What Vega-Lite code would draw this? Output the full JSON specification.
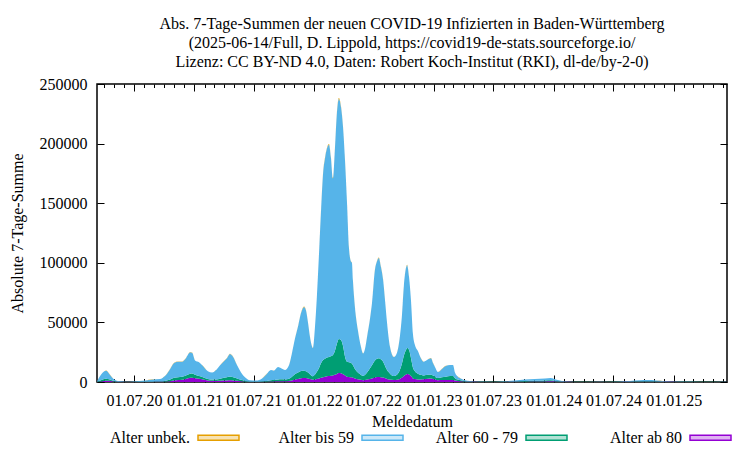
{
"$schema": "https://vega.github.io/schema/vega-lite/v6.json",
"width": 630, "height": 298,
"autosize": {"type": "none"},
"padding": {"left": 97, "top": 84, "right": 23, "bottom": 68},
"background": "white",
"title": {"text": ["Abs. 7-Tage-Summen der neuen COVID-19 Infizierten in Baden-Württemberg", "(2025-06-14/Full, D. Lippold, https://covid19-de-stats.sourceforge.io/", "Lizenz: CC BY-ND 4.0, Daten: Robert Koch-Institut (RKI), dl-de/by-2-0)"], "font": "Liberation Serif", "fontSize": 16, "fontWeight": "normal", "lineHeight": 19, "anchor": "middle", "offset": 6, "color": "black"},
"data": {"values": [
{"d":"2020-03-10","k1":80,"k2":120,"k3":300,"k4":10},
{"d":"2020-03-22","k1":500,"k2":1000,"k3":4500,"k4":60},
{"d":"2020-04-01","k1":900,"k2":1600,"k3":6500,"k4":80},
{"d":"2020-04-07","k1":1100,"k2":1700,"k3":6700,"k4":80},
{"d":"2020-04-16","k1":1000,"k2":1300,"k3":4700,"k4":60},
{"d":"2020-04-28","k1":500,"k2":500,"k3":2000,"k4":30},
{"d":"2020-05-13","k1":150,"k2":150,"k3":500,"k4":10},
{"d":"2020-06-04","k1":40,"k2":60,"k3":200,"k4":5},
{"d":"2020-07-01","k1":30,"k2":70,"k3":400,"k4":5},
{"d":"2020-08-04","k1":60,"k2":140,"k3":1000,"k4":10},
{"d":"2020-08-25","k1":80,"k2":220,"k3":1900,"k4":20},
{"d":"2020-09-18","k1":120,"k2":280,"k3":2100,"k4":20},
{"d":"2020-10-03","k1":300,"k2":600,"k3":4100,"k4":40},
{"d":"2020-10-19","k1":700,"k2":1300,"k3":9000,"k4":80},
{"d":"2020-10-31","k1":1300,"k2":2200,"k3":12500,"k4":100},
{"d":"2020-11-12","k1":1600,"k2":2400,"k3":13000,"k4":100},
{"d":"2020-11-24","k1":1900,"k2":2600,"k3":12500,"k4":100},
{"d":"2020-12-06","k1":2500,"k2":3000,"k3":14500,"k4":120},
{"d":"2020-12-19","k1":3500,"k2":3500,"k3":18000,"k4":150},
{"d":"2020-12-25","k1":3600,"k2":3600,"k3":17300,"k4":150},
{"d":"2021-01-03","k1":3200,"k2":2800,"k3":12000,"k4":100},
{"d":"2021-01-15","k1":2800,"k2":2200,"k3":11500,"k4":100},
{"d":"2021-01-27","k1":2200,"k2":1800,"k3":9500,"k4":80},
{"d":"2021-02-11","k1":1300,"k2":1200,"k3":6500,"k4":60},
{"d":"2021-02-24","k1":1000,"k2":1000,"k3":6000,"k4":50},
{"d":"2021-03-08","k1":900,"k2":1300,"k3":7800,"k4":60},
{"d":"2021-03-20","k1":1000,"k2":1800,"k3":11200,"k4":80},
{"d":"2021-04-01","k1":1200,"k2":2300,"k3":14000,"k4":100},
{"d":"2021-04-10","k1":1300,"k2":2700,"k3":16000,"k4":100},
{"d":"2021-04-19","k1":1400,"k2":2900,"k3":19200,"k4":120},
{"d":"2021-04-29","k1":1300,"k2":2700,"k3":17000,"k4":100},
{"d":"2021-05-11","k1":1000,"k2":2000,"k3":11000,"k4":80},
{"d":"2021-05-23","k1":600,"k2":1200,"k3":6200,"k4":50},
{"d":"2021-06-04","k1":300,"k2":600,"k3":3100,"k4":30},
{"d":"2021-06-19","k1":100,"k2":200,"k3":1200,"k4":10},
{"d":"2021-07-08","k1":60,"k2":140,"k3":1000,"k4":10},
{"d":"2021-07-26","k1":100,"k2":300,"k3":2600,"k4":20},
{"d":"2021-08-10","k1":250,"k2":650,"k3":6100,"k4":40},
{"d":"2021-08-22","k1":400,"k2":1100,"k3":8500,"k4":60},
{"d":"2021-08-31","k1":450,"k2":1250,"k3":7800,"k4":60},
{"d":"2021-09-13","k1":550,"k2":1650,"k3":10300,"k4":80},
{"d":"2021-09-22","k1":600,"k2":1700,"k3":9200,"k4":70},
{"d":"2021-10-04","k1":600,"k2":1600,"k3":7800,"k4":60},
{"d":"2021-10-16","k1":800,"k2":2000,"k3":11200,"k4":80},
{"d":"2021-10-25","k1":1300,"k2":3200,"k3":19500,"k4":120},
{"d":"2021-11-03","k1":2000,"k2":4500,"k3":29500,"k4":150},
{"d":"2021-11-13","k1":2600,"k2":5400,"k3":39000,"k4":200},
{"d":"2021-11-22","k1":3100,"k2":6100,"k3":48800,"k4":250},
{"d":"2021-12-01","k1":3400,"k2":6100,"k3":53500,"k4":250},
{"d":"2021-12-07","k1":3300,"k2":5700,"k3":51000,"k4":250},
{"d":"2021-12-13","k1":3000,"k2":5000,"k3":42000,"k4":200},
{"d":"2021-12-19","k1":2500,"k2":4000,"k3":31500,"k4":150},
{"d":"2021-12-25","k1":2000,"k2":3000,"k3":25000,"k4":120},
{"d":"2021-12-28","k1":1900,"k2":2900,"k3":23700,"k4":120},
{"d":"2022-01-03","k1":2100,"k2":3900,"k3":39000,"k4":200},
{"d":"2022-01-09","k1":2500,"k2":6000,"k3":62500,"k4":300},
{"d":"2022-01-16","k1":3000,"k2":9000,"k3":98000,"k4":400},
{"d":"2022-01-22","k1":3500,"k2":12500,"k3":129000,"k4":500},
{"d":"2022-01-28","k1":4000,"k2":14500,"k3":156500,"k4":600},
{"d":"2022-02-03","k1":4400,"k2":15100,"k3":168500,"k4":600},
{"d":"2022-02-09","k1":4800,"k2":15700,"k3":175500,"k4":600},
{"d":"2022-02-15","k1":5000,"k2":16000,"k3":178000,"k4":600},
{"d":"2022-02-21","k1":5200,"k2":16300,"k3":166500,"k4":600},
{"d":"2022-02-27","k1":5500,"k2":17100,"k3":148400,"k4":500},
{"d":"2022-03-05","k1":6000,"k2":20000,"k3":169000,"k4":600},
{"d":"2022-03-11","k1":6800,"k2":25200,"k3":193000,"k4":700},
{"d":"2022-03-17","k1":7500,"k2":28500,"k3":201500,"k4":700},
{"d":"2022-03-24","k1":7300,"k2":27700,"k3":195000,"k4":700},
{"d":"2022-03-30","k1":6500,"k2":23500,"k3":183000,"k4":600},
{"d":"2022-04-05","k1":5500,"k2":15500,"k3":164000,"k4":600},
{"d":"2022-04-11","k1":4500,"k2":12500,"k3":133000,"k4":500},
{"d":"2022-04-17","k1":4200,"k2":12300,"k3":95500,"k4":400},
{"d":"2022-04-23","k1":4000,"k2":12000,"k3":85000,"k4":350},
{"d":"2022-04-26","k1":3900,"k2":11600,"k3":84500,"k4":350},
{"d":"2022-04-29","k1":3600,"k2":10400,"k3":71000,"k4":300},
{"d":"2022-05-05","k1":3000,"k2":8000,"k3":52000,"k4":250},
{"d":"2022-05-14","k1":2300,"k2":5700,"k3":35600,"k4":150},
{"d":"2022-05-23","k1":1800,"k2":4200,"k3":24000,"k4":100},
{"d":"2022-05-30","k1":1500,"k2":3500,"k3":19000,"k4":100},
{"d":"2022-06-05","k1":1700,"k2":4300,"k3":22000,"k4":100},
{"d":"2022-06-11","k1":2000,"k2":6000,"k3":29800,"k4":150},
{"d":"2022-06-20","k1":2600,"k2":8900,"k3":41500,"k4":200},
{"d":"2022-06-26","k1":3000,"k2":11000,"k3":52000,"k4":250},
{"d":"2022-07-05","k1":3800,"k2":14200,"k3":76000,"k4":350},
{"d":"2022-07-11","k1":4100,"k2":15400,"k3":81500,"k4":350},
{"d":"2022-07-17","k1":4200,"k2":15800,"k3":84000,"k4":400},
{"d":"2022-07-23","k1":4000,"k2":15000,"k3":78000,"k4":350},
{"d":"2022-07-30","k1":3700,"k2":13300,"k3":68600,"k4":300},
{"d":"2022-08-05","k1":3200,"k2":10300,"k3":54500,"k4":250},
{"d":"2022-08-11","k1":2600,"k2":7400,"k3":39500,"k4":200},
{"d":"2022-08-20","k1":2000,"k2":5000,"k3":22400,"k4":100},
{"d":"2022-09-01","k1":1600,"k2":3400,"k3":16000,"k4":80},
{"d":"2022-09-10","k1":1800,"k2":4200,"k3":18300,"k4":100},
{"d":"2022-09-19","k1":2600,"k2":7400,"k3":28000,"k4":150},
{"d":"2022-09-25","k1":3500,"k2":11500,"k3":39500,"k4":200},
{"d":"2022-10-01","k1":5000,"k2":17000,"k3":58000,"k4":300},
{"d":"2022-10-08","k1":6300,"k2":20700,"k3":69000,"k4":350},
{"d":"2022-10-11","k1":6700,"k2":21800,"k3":69500,"k4":350},
{"d":"2022-10-17","k1":6300,"k2":20700,"k3":61000,"k4":300},
{"d":"2022-10-23","k1":5000,"k2":15000,"k3":48000,"k4":250},
{"d":"2022-10-29","k1":3000,"k2":9000,"k3":28000,"k4":150},
{"d":"2022-11-04","k1":2500,"k2":6500,"k3":22000,"k4":100},
{"d":"2022-11-13","k1":2200,"k2":4800,"k3":19000,"k4":100},
{"d":"2022-11-22","k1":2200,"k2":3800,"k3":14000,"k4":80},
{"d":"2022-12-01","k1":2300,"k2":3200,"k3":11500,"k4":80},
{"d":"2022-12-14","k1":2800,"k2":3200,"k3":13000,"k4":80},
{"d":"2022-12-23","k1":3000,"k2":3000,"k3":14000,"k4":80},
{"d":"2022-12-29","k1":2500,"k2":3000,"k3":10500,"k4":60},
{"d":"2023-01-04","k1":2000,"k2":2500,"k3":8100,"k4":50},
{"d":"2023-01-13","k1":1500,"k2":1900,"k3":5000,"k4":40},
{"d":"2023-01-25","k1":1600,"k2":2400,"k3":7000,"k4":40},
{"d":"2023-02-06","k1":1700,"k2":2800,"k3":9000,"k4":50},
{"d":"2023-02-19","k1":1700,"k2":3300,"k3":9300,"k4":50},
{"d":"2023-02-28","k1":1700,"k2":3300,"k3":9300,"k4":50},
{"d":"2023-03-06","k1":1200,"k2":2000,"k3":4800,"k4":30},
{"d":"2023-03-15","k1":800,"k2":1200,"k3":2500,"k4":20},
{"d":"2023-03-24","k1":600,"k2":800,"k3":1600,"k4":15},
{"d":"2023-04-05","k1":300,"k2":400,"k3":800,"k4":10},
{"d":"2023-04-20","k1":150,"k2":250,"k3":500,"k4":5},
{"d":"2023-05-21","k1":60,"k2":90,"k3":250,"k4":3},
{"d":"2023-07-03","k1":50,"k2":70,"k3":180,"k4":2},
{"d":"2023-08-05","k1":100,"k2":150,"k3":350,"k4":3},
{"d":"2023-09-04","k1":200,"k2":300,"k3":700,"k4":5},
{"d":"2023-10-05","k1":300,"k2":500,"k3":1200,"k4":10},
{"d":"2023-11-04","k1":400,"k2":600,"k3":1500,"k4":10},
{"d":"2023-12-05","k1":500,"k2":700,"k3":1800,"k4":10},
{"d":"2023-12-23","k1":600,"k2":800,"k3":1900,"k4":10},
{"d":"2024-01-07","k1":400,"k2":500,"k3":1100,"k4":5},
{"d":"2024-01-26","k1":150,"k2":250,"k3":400,"k4":3},
{"d":"2024-03-05","k1":50,"k2":70,"k3":180,"k4":2},
{"d":"2024-05-20","k1":30,"k2":50,"k3":120,"k4":1},
{"d":"2024-07-20","k1":80,"k2":120,"k3":300,"k4":2},
{"d":"2024-08-20","k1":150,"k2":250,"k3":500,"k4":3},
{"d":"2024-09-19","k1":250,"k2":350,"k3":800,"k4":5},
{"d":"2024-10-14","k1":300,"k2":400,"k3":900,"k4":5},
{"d":"2024-11-07","k1":250,"k2":350,"k3":700,"k4":5},
{"d":"2024-12-04","k1":120,"k2":180,"k3":400,"k4":3},
{"d":"2025-01-19","k1":60,"k2":90,"k3":250,"k4":2},
{"d":"2025-03-21","k1":50,"k2":70,"k3":180,"k4":2},
{"d":"2025-06-11","k1":30,"k2":50,"k3":120,"k4":1}
]},
"transform": [{"fold": ["k1", "k2", "k3", "k4"], "as": ["grp", "val"]}],
"layer": [
{"mark": {"type": "area", "interpolate": "monotone"},
 "encoding": {
  "x": {"field": "d", "type": "temporal",
        "scale": {"type": "utc", "nice": false, "domain": [{"year": 2020, "month": 3, "date": 10, "utc": true}, {"year": 2025, "month": 6, "date": 12, "utc": true}]},
        "axis": {"orient": "bottom", "tickCount": {"interval": "month", "step": 1}, "labelExpr": "utcmonth(datum.value) % 6 == 0 ? utcFormat(datum.value, '%d.%m.%y') : ''", "labelOverlap": false, "labelFlush": false, "tickSize": {"condition": {"test": "utcmonth(datum.value) % 6 == 0", "value": -7}, "value": -3.5}, "labelPadding": 17, "title": "Meldedatum", "titlePadding": 2}},
  "y": {"field": "val", "type": "quantitative", "stack": "zero",
        "scale": {"domain": [0, 250000], "nice": false},
        "axis": {"values": [0, 50000, 100000, 150000, 200000, 250000], "format": "d", "tickSize": -7, "labelPadding": 17, "title": "Absolute 7-Tage-Summe", "titlePadding": 14}},
  "color": {"field": "grp", "type": "nominal",
        "scale": {"domain": ["k4", "k3", "k2", "k1"], "range": ["#E69F00", "#56B4E9", "#009E73", "#9400D3"]},
        "legend": {"orient": "none", "legendX": 100, "legendY": 332, "direction": "horizontal", "columns": 4, "gridAlign": "all", "columnPadding": 29, "title": null,
                   "labelExpr": "{'k1': 'Alter ab 80', 'k2': 'Alter 60 - 79', 'k3': 'Alter bis 59', 'k4': 'Alter unbek.'}[datum.value]",
                   "labelAlign": "right", "labelOffset": -50, "symbolType": "M-1,-0.122H1V0.122H-1Z", "symbolSize": 1681, "symbolStrokeWidth": 1.5,
                   "labelFont": "Liberation Serif", "labelFontSize": 16, "labelColor": "black", "labelLimit": 300,
                   "encode": {"symbols": {"update": {"fillOpacity": {"value": 0.3}, "stroke": {"scale": "color", "field": "value"}, "strokeWidth": {"value": 1.5}}}}}},
  "order": {"field": "grp", "sort": "ascending"}
 }},
{"mark": {"type": "point", "opacity": 0},
 "encoding": {
  "x": {"field": "d", "type": "temporal",
        "scale": {"type": "utc", "nice": false, "domain": [{"year": 2020, "month": 3, "date": 10, "utc": true}, {"year": 2025, "month": 6, "date": 12, "utc": true}]},
        "axis": {"orient": "top", "tickCount": {"interval": "month", "step": 1}, "labels": false, "title": null, "tickSize": {"condition": {"test": "utcmonth(datum.value) % 6 == 0", "value": -7}, "value": -3.5}}},
  "y": {"field": "val", "type": "quantitative",
        "scale": {"domain": [0, 250000], "nice": false},
        "axis": {"orient": "right", "values": [0, 50000, 100000, 150000, 200000, 250000], "labels": false, "title": null, "tickSize": -7}}
 }}
],
"resolve": {"axis": {"x": "independent", "y": "independent"}},
"config": {
 "view": {"stroke": "black", "strokeWidth": 1.5},
 "axis": {"domain": false, "grid": false, "labelFont": "Liberation Serif", "labelFontSize": 16, "labelColor": "black", "titleFont": "Liberation Serif", "titleFontSize": 16, "titleFontWeight": "normal", "titleColor": "black", "tickColor": "black", "tickWidth": 1}
}
}
